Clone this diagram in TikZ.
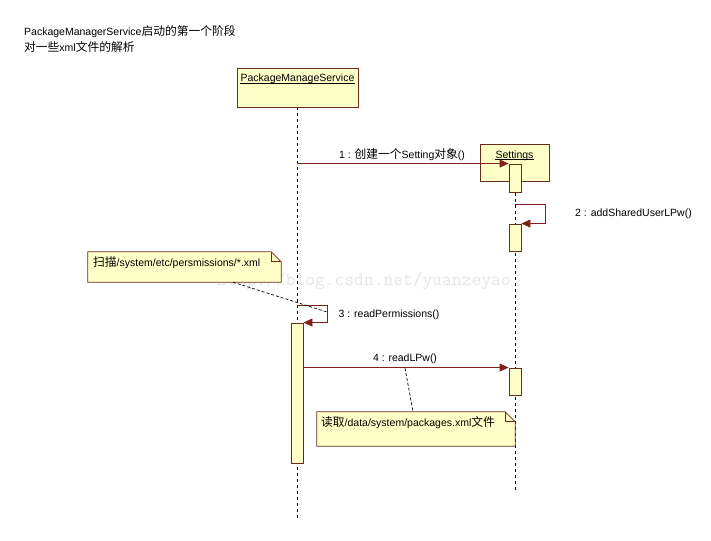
\documentclass[tikz,border=0pt]{standalone}
\usepackage{fontspec}
\setmainfont{Liberation Sans}
\newfontfamily\cjk{Noto Sans CJK SC}[Scale=1.12]
\usetikzlibrary{arrows.meta,calc,backgrounds}
\definecolor{boxfill}{HTML}{FFFFC8}
\definecolor{boxline}{HTML}{6B2B1B}
\definecolor{msgcol}{HTML}{80201A}
\definecolor{wmcol}{HTML}{E6E6E6}
\tikzset{
  txt/.style={inner sep=0pt, font=\fontsize{10.5}{12}\selectfont, text=black},
  headbox/.style={draw=boxline, fill=boxfill, line width=0.9pt, inner sep=0pt},
  actbox/.style={draw=boxline, fill=boxfill, line width=0.9pt, inner sep=0pt, minimum width=12pt},
  lifeline/.style={draw=black, line width=0.8pt, dash pattern=on 3pt off 3pt},
  msg/.style={draw=msgcol, line width=0.9pt, -{Triangle[length=9pt,width=8pt]}},
  notelink/.style={draw=black, line width=0.7pt, dash pattern=on 3pt off 2pt},
  noteframe/.style={draw=boxline, fill=boxfill, line width=0.8pt},
  noteanchor/.style={draw=none, fill=none, inner sep=0pt},
  uline/.style={draw=black, line width=0.7pt}
}
\begin{document}
\begin{tikzpicture}[x=1pt,y=1pt]
\useasboundingbox (0,0) rectangle (711,-540);

% title
\node[txt, anchor=west] (t1) at (24,-32) {PackageManagerService{\cjk 启动的第一个阶段}};
\node[txt, anchor=west] (t2) at (24,-47) {{\cjk 对一些}xml{\cjk 文件的解析}};

% watermark
\node[inner sep=0pt, text=wmcol, font=\ttfamily\fontsize{19}{20}\selectfont] (wm) at (364,-281) {http://blog.csdn.net/yuanzeyao};

% lifeline heads
\node[headbox, minimum width=121pt, minimum height=39pt] (pms) at (297.5,-87.5) {};
\node[txt, anchor=base] (pmsl) at (297.5,-82) {PackageManageService};
\draw[uline] ($(pmsl.base west)+(0,-1.6)$) -- ($(pmsl.base east)+(0,-1.6)$);
\node[headbox, minimum width=69pt, minimum height=37pt] (set) at (514.5,-162.5) {};
\node[txt, anchor=base] (setl) at (514.5,-158) {Settings};
\draw[uline] ($(setl.base west)+(0,-1.6)$) -- ($(setl.base east)+(0,-1.6)$);

% lifelines
\coordinate (pmsend) at (297,-520);
\coordinate (setend) at (515,-493);
\begin{scope}[on background layer]
\fill[white] (0,0) rectangle (711,-540);
\draw[lifeline] (pms.south -| pmsend) -- (pmsend);
\draw[lifeline] (set.south -| setend) -- (setend);
\end{scope}

% activations
\node[actbox, minimum height=28pt] (a1) at (515,-178) {};
\node[actbox, minimum height=27pt] (a2) at (515,-237.5) {};
\node[actbox, minimum height=140pt] (a3) at (297,-393) {};
\node[actbox, minimum height=27pt] (a4) at (515,-381.5) {};

% message 1
\draw[msg] (a1.north west -| pmsend) -- (a1.north west);
\node[txt] (l1) at (402,-155) {1 : {\cjk 创建一个}Setting{\cjk 对象}()};

% message 2 (self)
\coordinate (m2s) at (515,-204);
\coordinate (m2r) at (545,-204);
\draw[msg] (m2s) -- (m2r) |- (a2.north east);
\node[txt] (l2) at (633.5,-214) {2 : addSharedUserLPw()};

% message 3 (self)
\coordinate (m3s) at (297,-305);
\coordinate (m3r) at (327,-305);
\draw[msg] (m3s) -- (m3r) |- (a3.north east);
\node[txt] (l3) at (389,-315) {3 : readPermissions()};

% message 4
\draw[msg] (a3.east |- a4.north west) -- (a4.north west);
\node[txt] (l4) at (405,-359) {4 : readLPw()};

% note 1
\node[noteanchor, minimum width=193pt, minimum height=30pt] (n1) at (184.5,-267) {};
\draw[noteframe] (n1.south west) -- (n1.north west) -- ($(n1.north east)+(-10,0)$) -- ($(n1.north east)+(0,-10)$) -- (n1.south east) -- cycle;
\draw[draw=boxline, line width=0.8pt] ($(n1.north east)+(-10,0)$) -- ($(n1.north east)+(-10,-10)$) -- ($(n1.north east)+(0,-10)$);
\node[txt, anchor=west] (n1t) at (93,-263) {{\cjk 扫描}/system/etc/persmissions/*.xml};
\coordinate (n1e) at (327,-312);
\draw[notelink] (n1.south -| 233,0) -- (n1e);

% note 2
\node[noteanchor, minimum width=198pt, minimum height=34pt] (n2) at (416,-429) {};
\draw[noteframe] (n2.south west) -- (n2.north west) -- ($(n2.north east)+(-10,0)$) -- ($(n2.north east)+(0,-10)$) -- (n2.south east) -- cycle;
\draw[draw=boxline, line width=0.8pt] ($(n2.north east)+(-10,0)$) -- ($(n2.north east)+(-10,-10)$) -- ($(n2.north east)+(0,-10)$);
\node[txt, anchor=west] (n2t) at (321,-423) {{\cjk 读取}/data/system/packages.xml{\cjk 文件}};
\coordinate (n2s) at (405,-368);
\draw[notelink] (n2s) -- (n2.north -| 413,0);
\end{tikzpicture}
\end{document}
